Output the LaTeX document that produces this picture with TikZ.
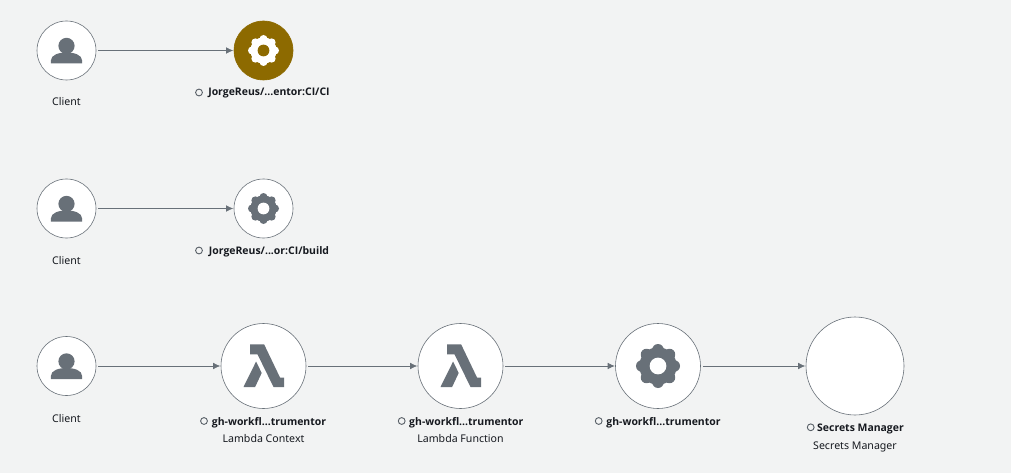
\documentclass[tikz,border=0pt]{standalone}
\usepackage{fontspec}
\setmainfont{Noto Sans}
\newfontfamily\titlefont{Open Sans}
\usepackage{xcolor}
\usetikzlibrary{positioning, arrows.meta}
\definecolor{canvas}{RGB}{242,243,243}
\definecolor{ink}{RGB}{22,25,31}
\definecolor{slate}{RGB}{104,112,120}
\definecolor{gold}{RGB}{141,106,0}
\tikzset{
  pics/gearglyph/.style n args={3}{code={
    \fill[#2] (0,0) circle[radius=0.85*#1];
    \foreach \ang in {0,45,...,315}
      \fill[#2] (\ang:0.74*#1) circle[radius=0.26*#1];
    \fill[#3] (0,0) circle[radius=0.38*#1];
  }},
  pics/personglyph/.style={code={
    \fill[slate] (0,-4.6) circle[radius=8.1];
    \fill[slate] (-15.6,13) -- (-15.6,10) .. controls (-15.6,4.5) and (-8,2) .. (0,2)
      .. controls (8,2) and (15.6,4.5) .. (15.6,10) -- (15.6,13) -- cycle;
  }},
  pics/lambdaglyph/.style={code={
    \fill[slate] (-13.4,-21.7) -- (0.6,-21.7) -- (16.6,11.7) -- (20.6,11.7) -- (20.6,21) -- (10,21)
      -- (-6,-11.7) -- (-13.4,-11.7) -- cycle;
    \fill[slate] (-7.4,-4.5) -- (-1.8,7) -- (-8.4,21) -- (-20,21) -- cycle;
  }}
}
\begin{document}
\begin{tikzpicture}[
  x=1pt, y=-1pt,
  svc/.style={circle, draw=slate, fill=white, line width=0.6pt, inner sep=0pt, minimum size=59pt},
  mid/.style={svc, minimum size=85pt},
  big/.style={svc, minimum size=98pt},
  solid gold/.style={svc, draw=gold, fill=gold},
  flow/.style={-{Latex[length=7pt,width=6.5pt]}, draw=slate, line width=0.6pt, shorten <=2pt, shorten >=0.5pt},
  ring/.style={circle, draw=slate!85!black, fill=canvas, line width=0.9pt, inner sep=0pt, minimum size=6.8pt},
  title/.style={font=\titlefont\fontsize{10.45}{12}\selectfont\bfseries, text=ink, inner sep=0pt, anchor=base},
  sub/.style={font=\fontsize{10.6}{12}\selectfont, text=ink, inner sep=0pt, anchor=base}]

  \useasboundingbox[fill=canvas] (0,0) rectangle (1011,473);

  % --- first trace
  \node[svc]        (cli1) at (66.5, 50.5) {};
  \node[solid gold] (ci)   at (263.5, 50.5) {};
  \pic at (cli1) {personglyph};
  \pic at (ci) {gearglyph={15.5}{white}{gold}};
  \draw[flow] (cli1) -- (ci);
  \node[sub]   (cli1t) at (66.5, 106) {Client};
  \node[ring]  (cir)   at (199, 92.5) {};
  \node[title] (cit)   at (269, 96) {JorgeReus/...entor:CI/CI};

  % --- second trace
  \node[svc] (cli2) at (66.5, 208.5) {};
  \node[svc] (bld)  at (263.5, 208.5) {};
  \pic at (cli2) {personglyph};
  \pic at (bld) {gearglyph={15.5}{slate}{white}};
  \draw[flow] (cli2) -- (bld);
  \node[sub]   (cli2t) at (66.5, 264) {Client};
  \node[ring]  (bldr)  at (199, 250.5) {};
  \node[title] (bldt)  at (269, 254) {JorgeReus/...or:CI/build};

  % --- third trace
  \node[svc] (cli3) at (66.5, 366) {};
  \node[mid] (ctx)  at (263.5, 366) {};
  \node[mid] (fun)  at (460.5, 366) {};
  \node[mid] (wf)   at (658, 366) {};
  \node[big] (sec)  at (855, 366) {};
  \pic at (cli3) {personglyph};
  \pic at (ctx) {lambdaglyph};
  \pic at (fun) {lambdaglyph};
  \pic at (wf) {gearglyph={22}{slate}{white}};
  \foreach \a/\b in {cli3/ctx, ctx/fun, fun/wf, wf/sec} \draw[flow] (\a) -- (\b);

  \node[sub]   (cli3t) at (66.5, 422) {Client};
  \node[ring]  (ctxr)  at (204, 421) {};
  \node[title] (ctxt)  at (269, 425) {gh-workfl...trumentor};
  \node[sub]   (ctxs)  at (263.5, 442) {Lambda Context};
  \node[ring]  (funr)  at (401.7, 421) {};
  \node[title] (funt)  at (466.3, 425) {gh-workfl...trumentor};
  \node[sub]   (funs)  at (460.5, 442) {Lambda Function};
  \node[ring]  (wfr)   at (598.7, 421) {};
  \node[title] (wft)   at (663.5, 425) {gh-workfl...trumentor};
  \node[ring]  (secr)  at (810.7, 427.3) {};
  \node[title] (sect)  at (860.5, 431) {Secrets Manager};
  \node[sub]   (secs)  at (855, 449) {Secrets Manager};
\end{tikzpicture}
\end{document}
